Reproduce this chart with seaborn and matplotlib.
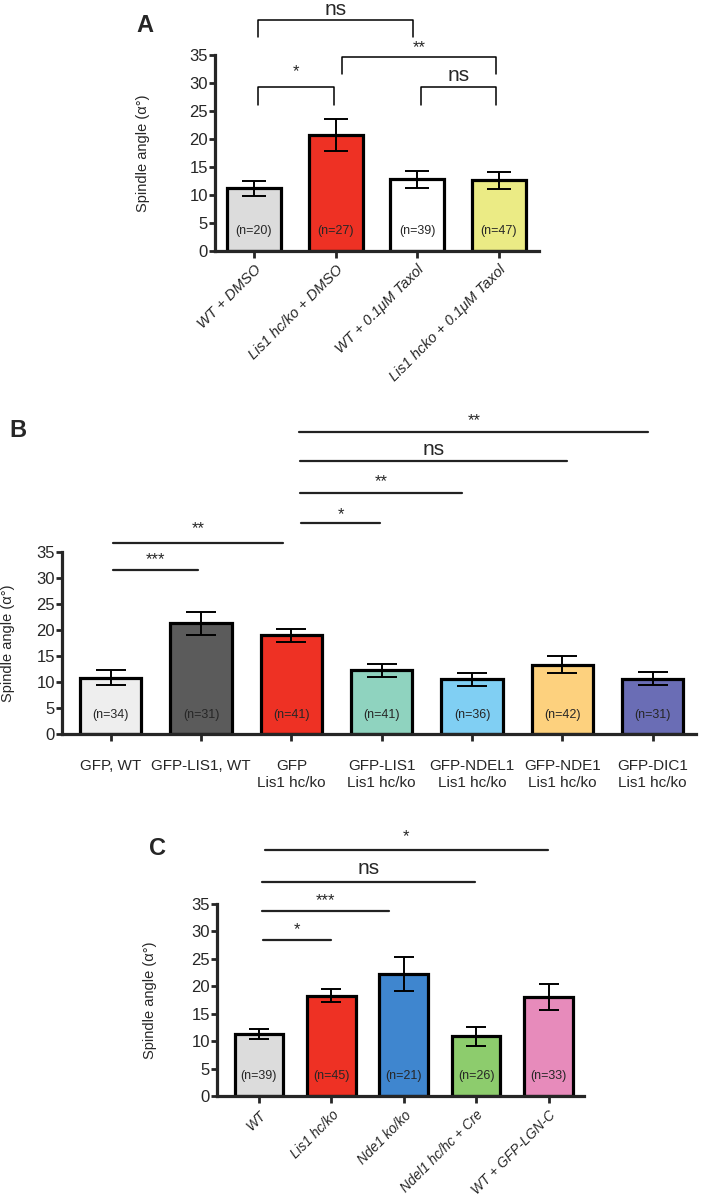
import numpy as np
import pandas as pd
import seaborn as sns
import matplotlib.pyplot as plt

# ---- data ----
a_groups = ['WT + DMSO', 'Lis1 hc/ko + DMSO', 'WT + 0.1\u03bcM Taxol', 'Lis1 hcko + 0.1\u03bcM Taxol']
a_means = [11.2, 20.7, 12.8, 12.6]
a_sem = [1.35, 2.85, 1.5, 1.45]
a_n = [20, 27, 39, 47]
a_colors = ['#dcdcdc', '#ee3124', '#ffffff', '#ebeb85']

b_groups = ['GFP, WT', 'GFP-LIS1, WT', 'GFP\nLis1 hc/ko', 'GFP-LIS1\nLis1 hc/ko',
            'GFP-NDEL1\nLis1 hc/ko', 'GFP-NDE1\nLis1 hc/ko', 'GFP-DIC1\nLis1 hc/ko']
b_means = [10.8, 21.3, 19.0, 12.25, 10.5, 13.3, 10.6]
b_sem = [1.45, 2.2, 1.25, 1.25, 1.3, 1.6, 1.25]
b_n = [34, 31, 41, 41, 36, 42, 31]
b_colors = ['#eeeeee', '#5b5b5b', '#ee3124', '#8fd3bf', '#80cff3', '#fdd17e', '#6a6db5']

c_groups = ['WT', 'Lis1 hc/ko', 'Nde1 ko/ko', 'Ndel1 hc/hc + Cre', 'WT + GFP-LGN-C']
c_means = [11.3, 18.3, 22.3, 10.9, 18.05]
c_sem = [1.0, 1.2, 3.1, 1.75, 2.35]
c_n = [39, 45, 21, 26, 33]
c_colors = ['#dcdcdc', '#ee3124', '#3f86cf', '#8dcc6d', '#e78bbb']

# significance marks: label, first group, last group
a_sig_labels = ['ns', '**', '*', 'ns']
a_sig_pairs = [(0, 2), (1, 3), (0, 1), (2, 3)]
b_sig_labels = ['***', '**', '*', '**', 'ns', '**']
b_sig_pairs = [(0, 1), (0, 2), (2, 3), (2, 4), (2, 5), (2, 6)]
c_sig_labels = ['*', '***', 'ns', '*']
c_sig_pairs = [(0, 1), (0, 2), (0, 3), (0, 4)]

sns.set_style('white')
plt.rcParams['font.family'] = ['Liberation Sans', 'DejaVu Sans']
NARROW = ['Liberation Sans Narrow', 'Liberation Sans', 'DejaVu Sans']

fig = plt.figure(figsize=(7.02, 12.02), dpi=100)


def draw_panel(rect, groups, means, sem, n, colors, width, capsize, xlim):
    ax = fig.add_axes(rect)
    df = pd.DataFrame({'group': groups, 'mean': means})
    sns.barplot(data=df, x='group', y='mean', hue='group', palette=colors, legend=False,
                width=width, saturation=1, edgecolor='black', linewidth=2.3,
                errorbar=None, ax=ax)
    ax.errorbar(np.arange(len(groups)), means, yerr=sem, fmt='none', ecolor='black',
                elinewidth=1.4, capsize=capsize, capthick=1.4, zorder=4)
    for i, k in enumerate(n):
        ax.text(i, 3.6, f'(n={k})', ha='center', va='center', fontsize=9, family=NARROW)
    ax.set_ylim(0, 35)
    ax.set_xlim(*xlim)
    ax.set_yticks(range(0, 36, 5))
    ax.set_xlabel('')
    ax.set_ylabel('Spindle angle (\u03b1\u00b0)', fontsize=10.5)
    sns.despine(ax=ax)
    for s in ['left', 'bottom']:
        ax.spines[s].set_linewidth(2.3)
    ax.tick_params(axis='y', direction='out', length=4, width=2, left=True, pad=1, labelsize=12)
    ax.tick_params(axis='x', direction='out', length=5, width=2, bottom=True)
    for lab in ax.get_yticklabels():
        lab.set_family(NARROW)
    return ax


# ---- panel A ----
axA = draw_panel([0.306, 0.7912, 0.4615, 0.163], a_groups, a_means, a_sem, a_n, a_colors,
                 0.66, 8.5, (-0.48, 3.49))
axA.set_xticks(range(len(a_groups)))
axA.set_xticklabels(a_groups, rotation=45, ha='right', rotation_mode='anchor',
                    fontsize=10.5, style='italic')
axA.yaxis.set_label_coords(-0.2, 0.5)
a_br = [(41.35, 38.2, 43.2, 0.05, -0.05), (34.7, 31.6, 36.4, 0.08, -0.03),
        (29.3, 26.0, 32.0, 0.05, -0.02), (29.3, 26.0, 31.3, 0.05, -0.03)]
for lab, (i, j), (yt, yl, ytx, o1, o2) in zip(a_sig_labels, a_sig_pairs, a_br):
    x1, x2 = i + o1, j + o2
    axA.plot([x1, x1, x2, x2], [yl, yt, yt, yl], color='black', lw=1.1, clip_on=False)
    axA.text((x1 + x2) / 2, ytx, lab, ha='center', va='center',
             fontsize=15 if lab == 'ns' else 12, family=NARROW, clip_on=False)

# ---- panel B ----
axB = draw_panel([0.0883, 0.3894, 0.903, 0.1514], b_groups, b_means, b_sem, b_n, b_colors,
                 0.68, 11, (-0.54, 6.48))
axB.set_xticks(range(len(b_groups)))
axB.set_xticklabels(b_groups, fontsize=11, linespacing=1.25, va='top')
axB.tick_params(axis='x', pad=13)
axB.yaxis.set_label_coords(-0.074, 0.5)
b_lines = [(31.6, 33.6, 0.03, -0.03), (36.75, 39.4, 0.03, -0.09), (40.6, 42.1, 0.11, -0.02),
           (46.4, 48.5, 0.1, -0.11), (52.4, 54.8, 0.1, 0.05), (58.0, 60.2, 0.09, -0.05)]
for lab, (i, j), (yl, ytx, o1, o2) in zip(b_sig_labels, b_sig_pairs, b_lines):
    x1, x2 = i + o1, j + o2
    axB.plot([x1, x2], [yl, yl], color='#222222', lw=1.6, clip_on=False)
    axB.text((x1 + x2) / 2, ytx, lab, ha='center', va='center',
             fontsize=15 if lab == 'ns' else 12, family=NARROW, clip_on=False)

# ---- panel C ----
axC = draw_panel([0.309, 0.0882, 0.523, 0.1597], c_groups, c_means, c_sem, c_n, c_colors,
                 0.67, 7.5, (-0.58, 4.49))
axC.set_xticks(range(len(c_groups)))
axC.set_xticklabels(c_groups, rotation=45, ha='right', rotation_mode='anchor',
                    fontsize=9.8, style='italic')
axC.yaxis.set_label_coords(-0.163, 0.5)
c_lines = [(28.5, 30.4, 0.06, -0.01), (33.75, 35.7, 0.04, -0.2), (39.1, 41.4, 0.04, -0.01),
           (44.8, 47.3, 0.08, -0.01)]
for lab, (i, j), (yl, ytx, o1, o2) in zip(c_sig_labels, c_sig_pairs, c_lines):
    x1, x2 = i + o1, j + o2
    axC.plot([x1, x2], [yl, yl], color='#222222', lw=1.6, clip_on=False)
    axC.text((x1 + x2) / 2, ytx, lab, ha='center', va='center',
             fontsize=15 if lab == 'ns' else 12, family=NARROW, clip_on=False)

fig.text(0.2066, 0.979, 'A', fontsize=17, fontweight='bold', ha='center', va='center')
fig.text(0.026, 0.642, 'B', fontsize=17, fontweight='bold', ha='center', va='center')
fig.text(0.224, 0.294, 'C', fontsize=17, fontweight='bold', ha='center', va='center')

fig.savefig('out.png', dpi=100)
